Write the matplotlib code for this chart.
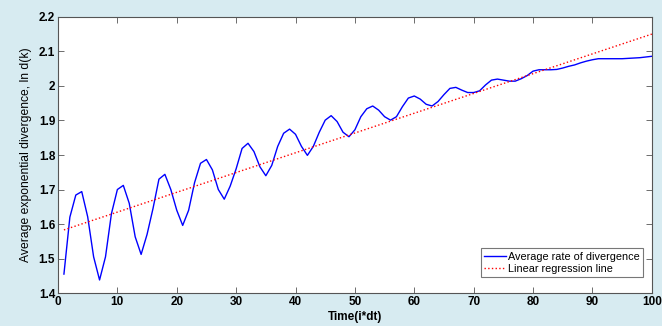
import numpy as np
import matplotlib
matplotlib.use("Agg")
import matplotlib.pyplot as plt

# time steps 1..100
time = np.arange(1, 101)

# average rate of divergence
divergence = [
    1.455, 1.620, 1.684, 1.694, 1.621, 1.505, 1.438, 1.505, 1.630, 1.700,
    1.712, 1.660, 1.563, 1.512, 1.570, 1.645, 1.730, 1.744, 1.700, 1.640,
    1.596, 1.640, 1.720, 1.776, 1.787, 1.757, 1.700, 1.672, 1.710, 1.760,
    1.819, 1.834, 1.810, 1.766, 1.740, 1.770, 1.825, 1.863, 1.875, 1.860,
    1.825, 1.799, 1.825, 1.866, 1.901, 1.914, 1.897, 1.866, 1.853, 1.873,
    1.911, 1.934, 1.942, 1.930, 1.911, 1.901, 1.911, 1.940, 1.965, 1.971,
    1.962, 1.947, 1.942, 1.955, 1.975, 1.993, 1.996, 1.988, 1.981, 1.981,
    1.986, 2.003, 2.017, 2.020, 2.017, 2.014, 2.014, 2.021, 2.030, 2.043,
    2.047, 2.047, 2.047, 2.048, 2.052, 2.057, 2.061, 2.067, 2.072, 2.076,
    2.079, 2.079, 2.079, 2.079, 2.079, 2.080, 2.081, 2.082, 2.084, 2.086,
]

# regression line coefficients
reg_slope = 0.00573
reg_intercept = 1.5773

bg = '#d7ebf1'

fig = plt.figure(figsize=(6.62, 3.26), dpi=100, facecolor=bg)
ax = fig.add_axes([0.0876, 0.101, 0.897, 0.847])

ax.plot(time, divergence, color='#0000ff', lw=1.0, label='Average rate of divergence')
ax.plot(time, reg_intercept + reg_slope * time, color='#ff0000', lw=1.0,
        linestyle=':', label='Linear regression line')

ax.set_xlim(0, 100)
ax.set_ylim(1.4, 2.2)
ax.set_xticks(np.arange(0, 101, 10))
ax.set_yticks(np.arange(1.4, 2.21, 0.1))
ax.set_yticklabels(['1.4', '1.5', '1.6', '1.7', '1.8', '1.9', '2', '2.1', '2.2'])

ax.tick_params(direction='in', top=True, right=True, length=4, width=0.6,
               labelsize=8.5, pad=2, colors='#555555', labelcolor='black')
for lbl in ax.get_xticklabels() + ax.get_yticklabels():
    lbl.set_fontweight('bold')
    lbl.set_family('Liberation Sans')
for sp in ax.spines.values():
    sp.set_color('#555555')
    sp.set_linewidth(0.8)

ax.set_xlabel('Time(i*dt)', fontsize=8.5, fontweight='bold', family='Liberation Sans', labelpad=2)
ax.set_ylabel('Average exponential divergence, ln d(k)', fontsize=8.7,
              family='Liberation Sans', labelpad=5)

leg = ax.legend(loc='lower right', bbox_to_anchor=(0.985, 0.058), frameon=True,
                fancybox=False, borderaxespad=0, handlelength=2.0, handletextpad=0.2,
                borderpad=0.3, labelspacing=0.2, prop={'family': 'Liberation Sans', 'size': 7.8})
leg.get_frame().set_edgecolor('#555555')
leg.get_frame().set_linewidth(0.8)

fig.savefig('out.png', dpi=100, facecolor=bg)
